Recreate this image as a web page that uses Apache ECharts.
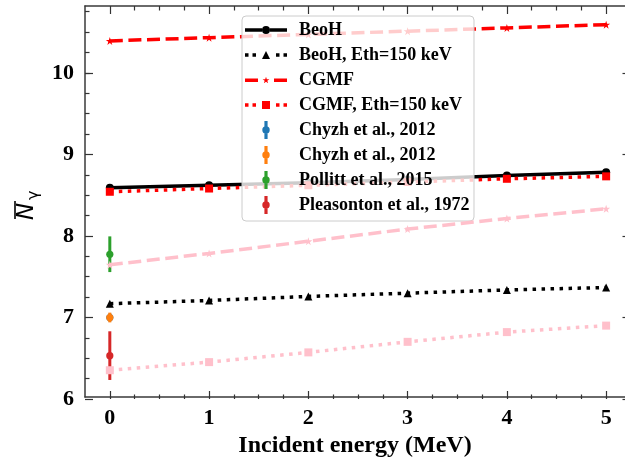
<!DOCTYPE html>
<html><head><meta charset="utf-8">
<script src="https://cdn.jsdelivr.net/npm/echarts@6/dist/echarts.min.js"></script>
<style>html,body{margin:0;padding:0;background:#fff}#c{width:625px;height:463px}</style>
</head><body><div id="c"></div>
<script>
// ---- data ----
const energies = [0, 1, 2, 3, 4, 5];
const beoh = [8.58, 8.61, 8.64, 8.68, 8.73, 8.77];
const beohEth = [7.15, 7.19, 7.24, 7.28, 7.32, 7.35];
const cgmf = [10.39, 10.43, 10.47, 10.51, 10.55, 10.59];
const cgmfEth = [8.53, 8.57, 8.61, 8.65, 8.69, 8.72];
const cgmfAlt = [7.63, 7.77, 7.92, 8.07, 8.20, 8.32];
const cgmfAltEth = [6.33, 6.43, 6.55, 6.68, 6.80, 6.88];
const expNames = ['Chyzh et al., 2012', 'Chyzh et al., 2012', 'Pollitt et al., 2015', 'Pleasonton et al., 1972'];
const expEnergy = [0, 0, 0, 0];
const expValue = [6.98, 6.98, 7.76, 6.51];
const expError = [0.05, 0.06, 0.22, 0.30];
const expColors = ['#1f77b4', '#ff7f0e', '#2ca02c', '#d62728'];
const xTickLabels = [0, 1, 2, 3, 4, 5];
const yTickLabels = [6, 7, 8, 9, 10];

// ---- layout (pixels) ----
const W = 625, H = 463;
const PLOT_LEFT = 85, PLOT_TOP = 6, PLOT_BOTTOM = 399;
const xMin = -0.25, xMax = 5.19;           // right spine lies just beyond the picture
const yMin = 6, yMax = 10.82;
const pxPerX = (W - PLOT_LEFT) / (xMax - xMin);
const pxPerY = (PLOT_BOTTOM - PLOT_TOP) / (yMax - yMin);
const xPix = v => PLOT_LEFT + (v - xMin) * pxPerX;
const yPix = v => PLOT_BOTTOM - (v - yMin) * pxPerY;

// ---- styling ----
const SERIF = "'Liberation Serif', 'Times New Roman', serif";
const AXC = '#333333';
const STAR = 'path://M0,-10L2.245,-3.09L9.51,-3.09L3.633,1.18L5.88,8.09L0,3.82L-5.88,8.09L-3.633,1.18L-9.51,-3.09L-2.245,-3.09Z';
const ICON_SOLID_CIRCLE = 'path://M0,-1.75H17V1.75H0Z M25,-1.75H42V1.75H25Z M17,0A4,4 0 1,1 25,0A4,4 0 1,1 17,0Z';
const ICON_DOT_TRI = 'path://M0,-1.75h3.5v3.5h-3.5Z M7.5,-1.75h3.5v3.5h-3.5Z M17,4L21,-4L25,4Z M31,-1.75h3.5v3.5h-3.5Z M38.5,-1.75h3.5v3.5h-3.5Z';
const ICON_DASH_STAR = 'path://M0,-1.75H13V1.75H0Z M29,-1.75H42V1.75H29Z M21,-3.6L21.81,-1.11L24.42,-1.11L22.31,0.42L23.12,2.91L21,1.38L18.88,2.91L19.69,0.42L17.58,-1.11L20.19,-1.11Z';
const ICON_DOT_SQ = 'path://M0,-1.75h3.5v3.5h-3.5Z M7.5,-1.75h3.5v3.5h-3.5Z M17,-4H25V4H17Z M31,-1.75h3.5v3.5h-3.5Z M38.5,-1.75h3.5v3.5h-3.5Z';
const ICON_ERR = 'path://M-1.5,-8.5H1.5V-3.3H-1.5Z M-1.5,3.3H1.5V8.5H-1.5Z M-3.5,0A3.5,3.5 0 1,1 3.5,0A3.5,3.5 0 1,1 -3.5,0Z';

function pairs(vals) { return energies.map((e, i) => [e, vals[i]]); }

function lineSeries(name, vals, color, type, width, symbol, size) {
  return {
    type: 'line', name: name, xAxisIndex: 0, yAxisIndex: 0,
    data: pairs(vals), symbol: symbol, symbolSize: size, showSymbol: true,
    lineStyle: { color: color, width: width, type: type, cap: 'butt' },
    itemStyle: { color: color, borderWidth: 0 },
    emphasis: { disabled: true }, z: 2
  };
}

function renderErr(params, api) {
  const x = api.value(0), y = api.value(1), e = api.value(2);
  const c = api.coord([x, y]), lo = api.coord([x, y - e]), hi = api.coord([x, y + e]);
  const color = api.visual('color');
  return { type: 'group', children: [
    { type: 'line', shape: { x1: c[0], y1: lo[1], x2: c[0], y2: hi[1] }, style: { stroke: color, lineWidth: 3 } },
    { type: 'circle', shape: { cx: c[0], cy: c[1], r: 3.6 }, style: { fill: color } }
  ] };
}

const DOT = [3.5, 5.5], DASH = [13, 5.6];
const series = [
  lineSeries('BeoH', beoh, '#000000', 'solid', 3.5, 'circle', 8),
  lineSeries('BeoH, Eth=150 keV', beohEth, '#000000', DOT, 3.5, 'triangle', 8),
  lineSeries('CGMF', cgmf, '#ff0000', DASH, 3.5, STAR, 8),
  lineSeries('CGMF, Eth=150 keV', cgmfEth, '#ff0000', DOT, 3.5, 'rect', 8)
];
const labelMap = {};
expNames.forEach((n, i) => {
  labelMap['exp' + i] = n;
  series.push({
    type: 'custom', name: 'exp' + i, xAxisIndex: 0, yAxisIndex: 0,
    renderItem: renderErr, encode: { x: 0, y: 1 },
    data: [[expEnergy[i], expValue[i], expError[i]]],
    itemStyle: { color: expColors[i] }, z: 3
  });
});
series.push(lineSeries('CGMF variant', cgmfAlt, '#ffc0cb', DASH, 3.5, STAR, 8));
series.push(lineSeries('CGMF variant, Eth=150 keV', cgmfAltEth, '#ffc0cb', DOT, 3.5, 'rect', 8));
series[series.length - 1].z = 4; series[series.length - 2].z = 4;

const tickCommon = { show: true, inside: true, length: 8, lineStyle: { color: AXC, width: 1.2 } };
const minorCommon = { show: true, splitNumber: 4, length: 4.5, lineStyle: { color: AXC, width: 1.2 } };
const labelCommon = { color: '#000', fontFamily: SERIF, fontWeight: 'bold', fontSize: 22 };
const spine = { show: true, onZero: false, lineStyle: { color: '#3a3a3a', width: 1.5 } };
const noLine = { show: false, onZero: false };

const x0 = xPix(xTickLabels[0]), x5 = xPix(xTickLabels[xTickLabels.length - 1]);
const yTop = yPix(yTickLabels[yTickLabels.length - 1]);
const yMinorTop = yPix(10.75);

const option = {
  animation: false,
  backgroundColor: '#ffffff',
  grid: [
    { left: PLOT_LEFT, right: 0, top: PLOT_TOP, bottom: H - PLOT_BOTTOM },              // data
    { left: x0, right: W - x5, top: PLOT_TOP, bottom: H - PLOT_BOTTOM },               // x ticks
    { left: PLOT_LEFT, right: 0, top: yTop, bottom: H - PLOT_BOTTOM },                  // y ticks 6..10
    { left: PLOT_LEFT, right: 0, top: yMinorTop, bottom: H - yTop }                     // y minor ticks 10..10.75
  ],
  xAxis: [
    { gridIndex: 0, type: 'value', min: xMin, max: xMax, position: 'bottom', axisLine: spine,
      axisTick: { show: false }, axisLabel: { show: false }, splitLine: { show: false },
      name: 'Incident energy (MeV)', nameLocation: 'middle', nameGap: 37,
      nameTextStyle: { color: '#000', fontFamily: SERIF, fontWeight: 'bold', fontSize: 24 } },
    { gridIndex: 0, type: 'value', min: xMin, max: xMax, position: 'top', axisLine: spine,
      axisTick: { show: false }, axisLabel: { show: false }, splitLine: { show: false } },
    { gridIndex: 1, type: 'value', min: xTickLabels[0], max: xTickLabels[xTickLabels.length - 1], interval: 1,
      position: 'bottom', axisLine: noLine, axisTick: tickCommon, minorTick: minorCommon,
      axisLabel: Object.assign({ margin: 8 }, labelCommon), splitLine: { show: false } },
    { gridIndex: 1, type: 'value', min: xTickLabels[0], max: xTickLabels[xTickLabels.length - 1], interval: 1,
      position: 'top', axisLine: noLine, axisTick: tickCommon, minorTick: minorCommon,
      axisLabel: { show: false }, splitLine: { show: false } },
    { gridIndex: 2, type: 'value', min: 0, max: 1, show: false },
    { gridIndex: 3, type: 'value', min: 0, max: 1, show: false }
  ],
  yAxis: [
    { gridIndex: 0, type: 'value', min: yMin, max: yMax, position: 'left', axisLine: spine,
      axisTick: { show: false }, axisLabel: { show: false }, splitLine: { show: false } },
    { gridIndex: 1, type: 'value', min: yMin, max: yMax, show: false },
    { gridIndex: 2, type: 'value', min: yTickLabels[0], max: yTickLabels[yTickLabels.length - 1], interval: 1, position: 'left',
      axisLine: noLine, axisTick: tickCommon, minorTick: minorCommon,
      axisLabel: Object.assign({ margin: 11 }, labelCommon), splitLine: { show: false } },
    { gridIndex: 2, type: 'value', min: yTickLabels[0], max: yTickLabels[yTickLabels.length - 1], interval: 1, position: 'right',
      axisLine: noLine, axisTick: { show: true, inside: true, length: 2.5, lineStyle: { color: AXC, width: 1.2 } },
      axisLabel: { show: false }, splitLine: { show: false } },
    { gridIndex: 3, type: 'value', min: 10, max: 10.75, interval: 0.25, position: 'left',
      axisLine: noLine, axisTick: { show: true, inside: true, length: 4.5, lineStyle: { color: AXC, width: 1.2 } },
      axisLabel: { show: false }, splitLine: { show: false } }
  ],
  legend: {
    orient: 'vertical', left: 242, top: 16, padding: [5, 4.5, 7, 3],
    itemWidth: 42, itemHeight: 18, itemGap: 7, selectedMode: false,
    backgroundColor: 'rgba(255,255,255,0.8)', borderColor: '#cccccc', borderWidth: 1, borderRadius: 4,
    itemStyle: { borderWidth: 0 },
    textStyle: { color: '#000', fontFamily: SERIF, fontWeight: 'bold', fontSize: 18, lineHeight: 18, padding: [0, 0, 0, 7] },
    formatter: function (name) { return labelMap[name] || name; },
    data: [
      { name: 'BeoH', icon: ICON_SOLID_CIRCLE },
      { name: 'BeoH, Eth=150 keV', icon: ICON_DOT_TRI },
      { name: 'CGMF', icon: ICON_DASH_STAR },
      { name: 'CGMF, Eth=150 keV', icon: ICON_DOT_SQ },
      { name: 'exp0', icon: ICON_ERR },
      { name: 'exp1', icon: ICON_ERR },
      { name: 'exp2', icon: ICON_ERR },
      { name: 'exp3', icon: ICON_ERR }
    ]
  },
  graphic: [{
    type: 'group', x: 36, y: 220, rotation: Math.PI / 2,
    children: [
      { type: 'text', x: 0, y: -8.5, style: { text: 'N', fontFamily: "'DejaVu Sans'", fontStyle: 'italic', fontSize: 23, fill: '#000', align: 'left', verticalAlign: 'middle' } },
      { type: 'line', shape: { x1: 1, y1: -21, x2: 19, y2: -21 }, style: { stroke: '#000', lineWidth: 1.6 } },
      { type: 'text', x: 20, y: -2, style: { text: 'γ', fontFamily: "'DejaVu Sans'", fontSize: 16, fill: '#000', align: 'left', verticalAlign: 'middle' } }
    ]
  }],
  series: series
};

const chart = echarts.init(document.getElementById('c'), null, { renderer: 'canvas' });
chart.setOption(option);
</script>
</body></html>
